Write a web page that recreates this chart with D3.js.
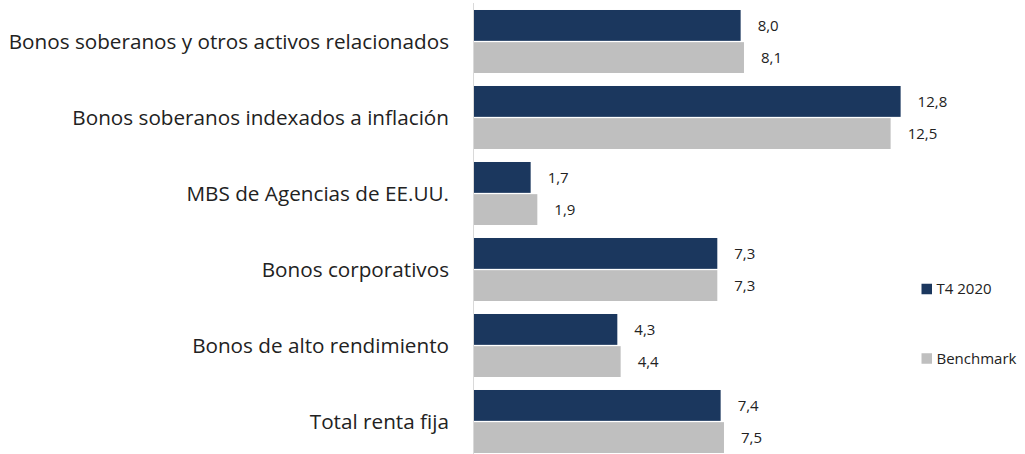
<!DOCTYPE html>
<html>
<head>
<meta charset="utf-8">
<script src="https://cdn.jsdelivr.net/npm/d3@7"></script>
<style>
  body { margin: 0; background: #fff; }
  svg { display: block; }
</style>
</head>
<body>
<script>
const categories = [
  "Bonos soberanos y otros activos relacionados",
  "Bonos soberanos indexados a inflación",
  "MBS de Agencias de EE.UU.",
  "Bonos corporativos",
  "Bonos de alto rendimiento",
  "Total renta fija"
];
const seriesNames = ["T4 2020", "Benchmark"];
const t4Values = [8.0, 12.8, 1.7, 7.3, 4.3, 7.4];
const benchValues = [8.1, 12.5, 1.9, 7.3, 4.4, 7.5];
const colors = ["#1b375e", "#bfbfbf"];

const width = 1025, height = 454;
const font = "'Open Sans', sans-serif";

const svg = d3.select("body").append("svg")
    .attr("width", width)
    .attr("height", height);

const x = d3.scaleLinear().domain([0, 1]).range([474, 474 + 33.33]);

const y = d3.scaleBand()
    .domain(categories)
    .range([3.5, 459.5])
    .paddingInner(0.171)
    .paddingOuter(0.0855);

const ySub = d3.scaleBand()
    .domain(seriesNames)
    .range([0, y.bandwidth()])
    .paddingInner(0.04);

const rows = categories.map((c, i) => ({
    cat: c,
    vals: [
        { name: seriesNames[0], v: t4Values[i], color: colors[0] },
        { name: seriesNames[1], v: benchValues[i], color: colors[1] }
    ]
}));

// axis line
svg.append("line")
    .attr("x1", x(0) - 0.5).attr("x2", x(0) - 0.5)
    .attr("y1", 3).attr("y2", height)
    .attr("stroke", "#d9d9d9")
    .attr("stroke-width", 1);

const g = svg.selectAll("g.cat")
    .data(rows)
    .join("g")
    .attr("class", "cat")
    .attr("transform", d => `translate(0,${y(d.cat)})`);

g.selectAll("rect")
    .data(d => d.vals)
    .join("rect")
    .attr("x", x(0))
    .attr("y", d => ySub(d.name))
    .attr("width", d => x(d.v) - x(0))
    .attr("height", ySub.bandwidth())
    .attr("fill", d => d.color);

g.selectAll("text.val")
    .data(d => d.vals)
    .join("text")
    .attr("class", "val")
    .attr("x", d => x(d.v) + 17)
    .attr("y", d => ySub(d.name) + ySub.bandwidth() / 2)
    .attr("dy", "0.35em")
    .attr("font-family", font)
    .attr("font-size", 15)
    .attr("fill", "#222")
    .text(d => d3.format(".1f")(d.v).replace(".", ","));

// category labels
svg.selectAll("text.cat")
    .data(categories)
    .join("text")
    .attr("class", "cat")
    .attr("x", 449)
    .attr("y", d => y(d) + y.bandwidth() / 2)
    .attr("dy", "0.35em")
    .attr("text-anchor", "end")
    .attr("font-family", font)
    .attr("font-size", 20.7)
    .attr("fill", "#222")
    .text(d => d);

// legend
const legendY = [289, 358.5];
const lg = svg.selectAll("g.legend")
    .data(seriesNames)
    .join("g")
    .attr("class", "legend")
    .attr("transform", (d, i) => `translate(921.5,${legendY[i]})`);
lg.append("rect")
    .attr("x", 0).attr("y", -5.25)
    .attr("width", 10.5).attr("height", 10.5)
    .attr("fill", (d, i) => colors[i]);
lg.append("text")
    .attr("x", 15)
    .attr("dy", "0.35em")
    .attr("font-family", font)
    .attr("font-size", 15)
    .attr("fill", "#222")
    .text(d => d);
</script>
</body>
</html>
